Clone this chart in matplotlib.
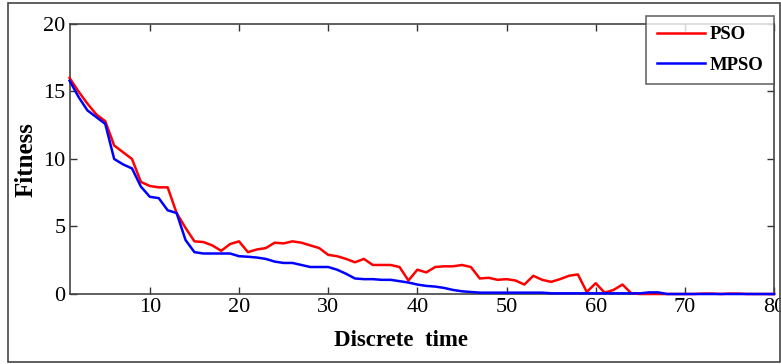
import numpy as np
import matplotlib
matplotlib.use("Agg")
import matplotlib.pyplot as plt
from matplotlib.patches import Rectangle

plt.rcParams['font.family'] = ['Liberation Serif', 'DejaVu Serif']

t = np.arange(1, 81)

pso = [16.0, 15.0, 14.1, 13.3, 12.8, 11.0, 10.5, 10.0, 8.3, 8.0,
       7.9, 7.9, 6.0, 4.9, 3.9, 3.85, 3.6, 3.2, 3.7, 3.9,
       3.1, 3.3, 3.4, 3.8, 3.75, 3.9, 3.8, 3.6, 3.4, 2.9,
       2.8, 2.6, 2.35, 2.6, 2.15, 2.15, 2.15, 2.0, 1.0, 1.8,
       1.6, 2.0, 2.05, 2.05, 2.15, 2.0, 1.15, 1.2, 1.05, 1.1,
       1.0, 0.7, 1.35, 1.05, 0.9, 1.1, 1.35, 1.45, 0.15, 0.8,
       0.1, 0.3, 0.7, 0.05, 0.0, 0.0, 0.0, 0.0, 0.0, 0.0,
       0.0, 0.03, 0.03, 0.0, 0.03, 0.03, 0.0, 0.0, 0.0, 0.0]

mpso = [15.8, 14.6, 13.6, 13.1, 12.6, 10.0, 9.6, 9.3, 7.95, 7.2,
        7.1, 6.2, 6.0, 4.0, 3.1, 3.0, 3.0, 3.0, 3.0, 2.8,
        2.76, 2.7, 2.6, 2.4, 2.3, 2.3, 2.15, 2.0, 2.0, 2.0,
        1.8, 1.5, 1.15, 1.1, 1.1, 1.05, 1.05, 0.95, 0.85, 0.7,
        0.6, 0.55, 0.45, 0.3, 0.2, 0.15, 0.1, 0.1, 0.1, 0.1,
        0.1, 0.1, 0.1, 0.1, 0.05, 0.05, 0.05, 0.05, 0.05, 0.05,
        0.05, 0.05, 0.05, 0.05, 0.05, 0.12, 0.12, 0.0, 0.0, 0.0,
        0.0, 0.0, 0.0, 0.0, 0.0, 0.0, 0.0, 0.0, 0.0, 0.0]

xticks = [10, 20, 30, 40, 50, 60, 70, 80]
yticks = [0, 5, 10, 15, 20]

fig = plt.figure(figsize=(7.81, 3.64), dpi=100)
ax = fig.add_axes([0.0891, 0.1923, 0.902, 0.7418])

ax.plot(t, pso, color='#ff0000', lw=1.8, label='PSO', clip_on=False, zorder=3)
ax.plot(t, mpso, color='#0000ff', lw=1.8, label='MPSO', clip_on=False, zorder=4)

ax.set_xlim(1, 80)
ax.set_ylim(0, 20)
ax.set_xticks(xticks)
ax.set_yticks(yticks)
ax.tick_params(direction='in', length=5, width=1, colors='#333333',
               labelcolor='black', labelsize=16, top=True, right=True, pad=3)
for s in ax.spines.values():
    s.set_color('#444444')
    s.set_linewidth(1.2)

fig.text(401 / 781, 1 - 340 / 364, 'Discrete  time', fontsize=16.5,
         fontweight='bold', ha='center', va='center')
fig.text(26 / 781, 1 - 160 / 364, 'Fitness', fontsize=18, fontweight='bold',
         rotation=90, ha='center', va='center')

leg = ax.legend(loc='upper right', bbox_to_anchor=(1.0, 1.03),
                prop={'weight': 'bold', 'size': 13.5}, frameon=True, fancybox=False,
                handlelength=2.6, borderpad=0.55, labelspacing=0.7, handletextpad=0.25,
                borderaxespad=0)
leg.get_frame().set_edgecolor('#444444')
leg.get_frame().set_linewidth(1.2)
leg.set_zorder(10)

fig.patches.append(Rectangle((8 / 781, 2 / 364), 772 / 781, 359 / 364,
                             transform=fig.transFigure, fill=False,
                             edgecolor='#444444', lw=1.2))

fig.savefig('out.png', dpi=100)
